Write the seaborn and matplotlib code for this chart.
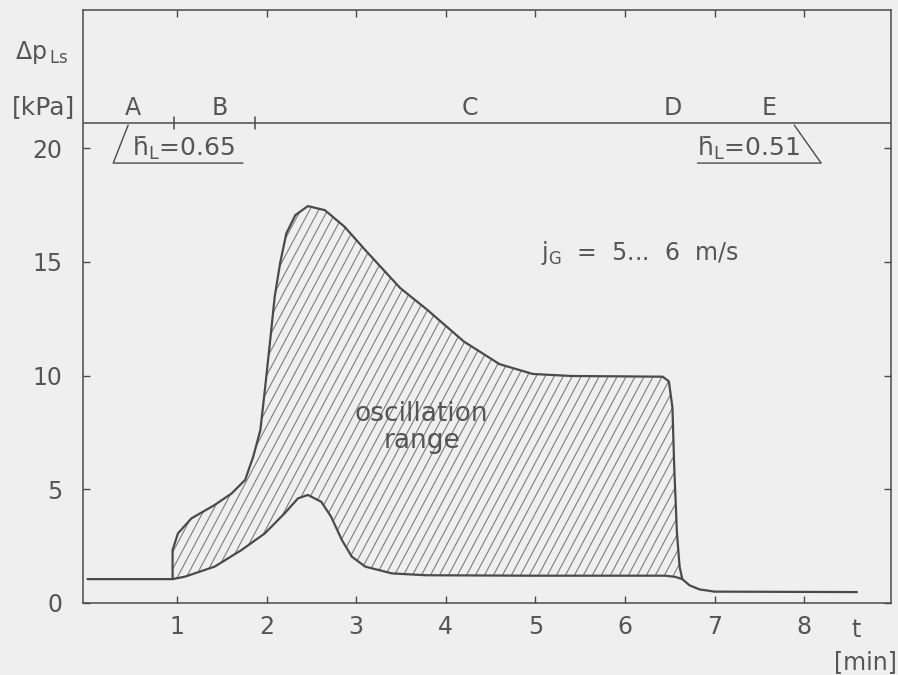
import numpy as np
import pandas as pd
import matplotlib
matplotlib.use("Agg")
import matplotlib.pyplot as plt
from matplotlib.collections import LineCollection
import seaborn as sns

# ---- data ----
upper_t = [0.95, 0.95, 1.01, 1.16, 1.42, 1.61, 1.76, 1.85, 1.93, 1.98, 2.04, 2.09, 2.15,
           2.22, 2.32, 2.46, 2.65, 2.87, 3.10, 3.49, 3.79, 4.20, 4.60, 4.97, 5.40, 6.42,
           6.49, 6.53, 6.55, 6.58, 6.61, 6.64]
upper_p = [1.05, 2.33, 3.06, 3.72, 4.31, 4.82, 5.41, 6.43, 7.6, 9.36, 11.56, 13.46, 14.93,
           16.25, 17.05, 17.45, 17.27, 16.54, 15.52, 13.85, 12.9, 11.5, 10.5, 10.07, 9.98, 9.95,
           9.75, 8.6, 6.0, 3.1, 1.6, 1.05]

lower_t = [0.0, 0.95, 1.09, 1.42, 1.72, 1.98, 2.20, 2.35, 2.46, 2.61, 2.72, 2.84, 2.95,
           3.10, 3.40, 3.78, 5.00, 6.45, 6.56, 6.64, 6.72, 6.83, 7.00, 8.59]
lower_p = [1.05, 1.05, 1.16, 1.6, 2.33, 3.06, 3.94, 4.6, 4.75, 4.45, 3.79, 2.77, 2.04,
           1.6, 1.3, 1.22, 1.2, 1.2, 1.15, 1.05, 0.78, 0.6, 0.5, 0.48]

x_ticks = [1, 2, 3, 4, 5, 6, 7, 8]
x_tick_labels = ["1", "2", "3", "4", "5", "6", "7", "8"]
y_ticks = [0, 5, 10, 15, 20]
y_tick_labels = ["0", "5", "10", "15", "20"]

regions = ["A", "B", "C", "D", "E"]
region_x = [0.51, 1.48, 4.27, 6.53, 7.61]
region_bounds = [0.97, 1.87]
regime_line = 21.1

# ---- style ----
bg = "#efefef"
ink = "#4a4a4a"
txt = "#555555"
hatch_col = "#7d7d7d"

sns.set_theme(style="ticks")
plt.rcParams["font.family"] = ["DejaVu Sans"]
plt.rcParams["mathtext.default"] = "regular"

W, H = 898, 675
fig = plt.figure(figsize=(W / 100, H / 100), dpi=100, facecolor=bg)
ax_l, ax_b, ax_w, ax_h = 83, 72, 808, 593
ax = fig.add_axes([ax_l / W, ax_b / H, ax_w / W, ax_h / H])
ax.set_facecolor(bg)

ax.set_xlim(-0.05, 8.97)
ax.set_ylim(0, 26.07)

# hatched oscillation range (steep hand-drawn style hatch, clipped to the band)
mask = [(t >= 0.95) and (t <= 6.64) for t in lower_t]
poly_t = list(upper_t) + [t for t, m in zip(lower_t, mask) if m][::-1]
poly_p = list(upper_p) + [p for p, m in zip(lower_p, mask) if m][::-1]
band = plt.Polygon(np.column_stack([poly_t, poly_p]), closed=True,
                   facecolor="none", edgecolor="none", transform=ax.transData)
ax.add_patch(band)
theta = np.deg2rad(62)
run = ax_h / np.tan(theta)
segs = []
for x0 in np.arange(-run, ax_w + 1, 9.0):
    segs.append([(x0 / ax_w, 0.0), ((x0 + run) / ax_w, 1.0)])
hatch = LineCollection(segs, colors=hatch_col, linewidths=0.8, transform=ax.transAxes)
ax.add_collection(hatch)
hatch.set_clip_path(band)

df_up = pd.DataFrame({"t": upper_t, "p": upper_p})
df_lo = pd.DataFrame({"t": lower_t, "p": lower_p})
sns.lineplot(data=df_up, x="t", y="p", sort=False, estimator=None, color=ink, lw=1.6, ax=ax)
sns.lineplot(data=df_lo, x="t", y="p", sort=False, estimator=None, color=ink, lw=1.6, ax=ax)

ax.set_xlim(-0.05, 8.97)
ax.set_ylim(0, 26.07)
ax.set_xlabel("")
ax.set_ylabel("")
ax.set_xticks(x_ticks)
ax.set_xticklabels(x_tick_labels)
ax.set_yticks(y_ticks)
ax.set_yticklabels(y_tick_labels)
ax.tick_params(direction="in", top=True, right=True, length=5, width=1.0, color=ink,
               labelcolor=txt, labelsize=17)
ax.tick_params(axis="y", pad=15)
ax.tick_params(axis="x", pad=9)
for s in ax.spines.values():
    s.set_visible(True)
    s.set_color(ink)
    s.set_linewidth(1.1)

# regime line with region letters
ax.axhline(regime_line, color=ink, lw=1.1)
for b in region_bounds:
    ax.plot([b, b], [regime_line - 0.25, regime_line + 0.25], color=ink, lw=1.1)
for lab, xv in zip(regions, region_x):
    ax.text(xv, regime_line + 0.15, lab, ha="center", va="bottom", fontsize=17, color=txt)

# h_L annotations
ax.plot([0.454, 0.287, 1.736], [21.01, 19.34, 19.34], color=ink, lw=1.0)
ax.text(1.07, 19.4, "h\u0304$_L$=0.65", ha="center", va="bottom", fontsize=18, color=txt)
ax.plot([6.81, 8.19, 7.89], [19.34, 19.34, 21.01], color=ink, lw=1.0)
ax.text(7.38, 19.4, "h\u0304$_L$=0.51", ha="center", va="bottom", fontsize=18, color=txt)

ax.text(6.16, 15.4, r"$j_G$  =  5...  6  m/s", ha="center", va="center", fontsize=17, color=txt)
ax.text(3.73, 7.7, "oscillation\nrange", ha="center", va="center", fontsize=19,
        color=txt, linespacing=1.05)

# outer labels
fig.text(15 / W, 1 - 52 / H, r"$\Delta p_{\,Ls}$", ha="left", va="center", fontsize=17, color=txt)
fig.text(12 / W, 1 - 107 / H, "[kPa]", ha="left", va="center", fontsize=18, color=txt)
fig.text(856 / W, 1 - 630 / H, "t", ha="center", va="center", fontsize=17, color=txt)
fig.text(865 / W, 1 - 662 / H, "[min]", ha="center", va="center", fontsize=17, color=txt)

fig.savefig("out.png", dpi=100, facecolor=bg)
